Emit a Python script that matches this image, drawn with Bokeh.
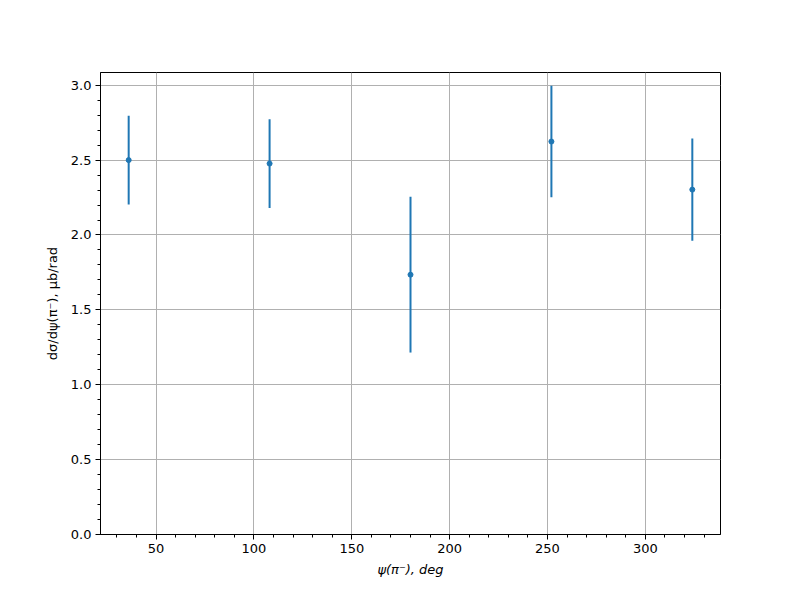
from bokeh.plotting import figure
from bokeh.models import Range1d, SingleIntervalTicker, ColumnDataSource, CustomJSTickFormatter
from bokeh.embed import file_html
from bokeh.resources import INLINE

# data
psi_deg = [36, 108, 180, 252, 324]
dsigma = [2.50, 2.477, 1.735, 2.624, 2.303]
err = [0.296, 0.296, 0.52, 0.372, 0.342]

x_label = "ψ(π⁻), deg"
y_label = "dσ/dψ(π⁻), μb/rad"

src = ColumnDataSource(dict(
    x=psi_deg,
    y=dsigma,
    lo=[v - e for v, e in zip(dsigma, err)],
    hi=[v + e for v, e in zip(dsigma, err)],
))

W, H = 784, 584
p = figure(width=W, height=H, output_backend="svg", toolbar_location=None,
           x_range=Range1d(21.6, 338.4), y_range=Range1d(0, 3.085),
           min_border_left=100, min_border_right=64, min_border_top=72, min_border_bottom=50)
p.background_fill_color = "white"
p.border_fill_color = "white"
p.outline_line_color = "black"
p.outline_line_width = 1

p.xaxis.ticker = SingleIntervalTicker(interval=50, num_minor_ticks=5)
p.yaxis.ticker = SingleIntervalTicker(interval=0.5, num_minor_ticks=5)
p.yaxis.formatter = CustomJSTickFormatter(code="return tick.toFixed(1);")

for ax in (p.xaxis, p.yaxis):
    ax.axis_line_color = "black"
    ax.major_tick_line_color = "black"
    ax.minor_tick_line_color = "black"
    ax.major_tick_in = 0
    ax.major_tick_out = 5
    ax.minor_tick_in = 0
    ax.minor_tick_out = 3
    ax.major_label_standoff = 4
    ax.major_label_text_font = "DejaVu Sans"
    ax.major_label_text_font_size = "13px"
    ax.major_label_text_color = "black"
    ax.axis_label_text_font = "DejaVu Sans"
    ax.axis_label_text_font_size = "13px"
    ax.axis_label_text_font_style = "italic"
    ax.axis_label_text_color = "black"

p.xaxis.axis_label = x_label
p.yaxis.axis_label = y_label
p.xaxis.axis_label_standoff = 6
p.yaxis.axis_label_standoff = 8
p.yaxis.axis_label_text_font_style = "normal"

p.xgrid.grid_line_color = "#b0b0b0"
p.ygrid.grid_line_color = "#b0b0b0"
p.xgrid.grid_line_width = 1
p.ygrid.grid_line_width = 1

p.segment(x0="x", y0="lo", x1="x", y1="hi", source=src, line_color="#1f77b4", line_width=2)
p.scatter(x="x", y="y", source=src, size=5, fill_color="#1f77b4", line_color="#1f77b4")

open("out.html", "w").write(file_html(p, INLINE))
